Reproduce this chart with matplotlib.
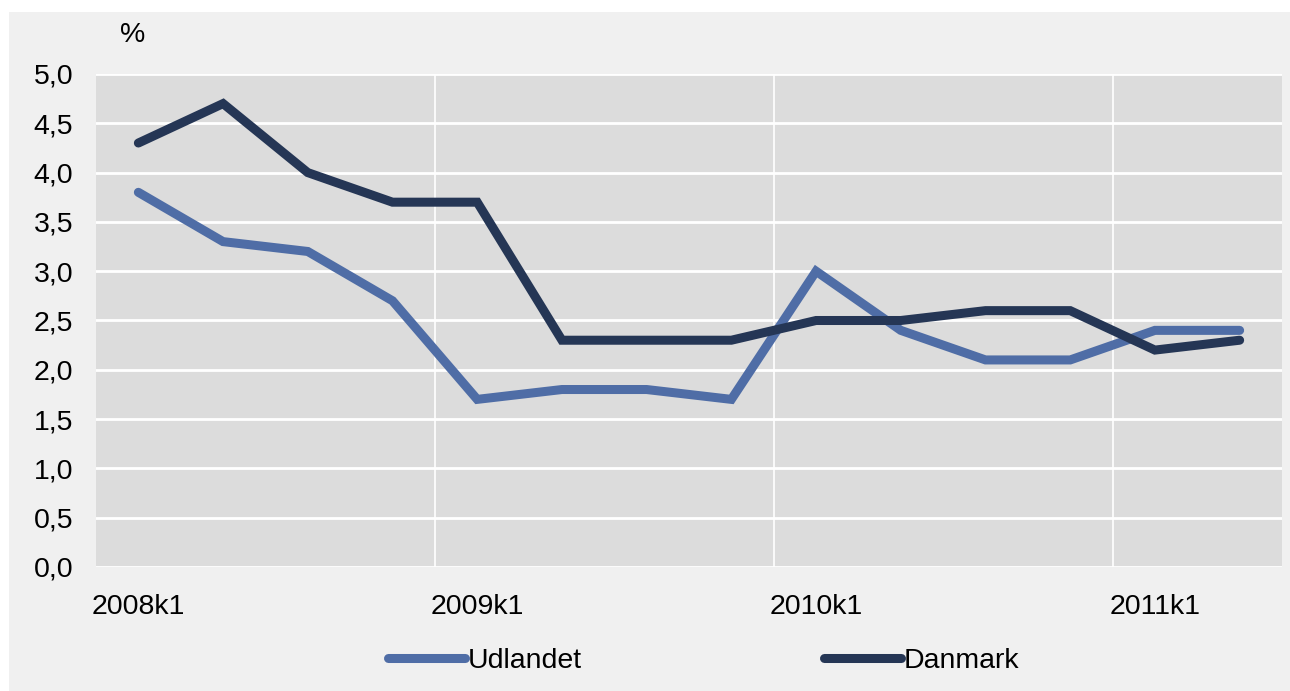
import matplotlib.pyplot as plt
from matplotlib.patches import Rectangle

plt.rcParams['font.family'] = ['Liberation Sans', 'DejaVu Sans']

quarters = ['2008k1', '2008k2', '2008k3', '2008k4',
            '2009k1', '2009k2', '2009k3', '2009k4',
            '2010k1', '2010k2', '2010k3', '2010k4',
            '2011k1', '2011k2']
udlandet = [3.8, 3.3, 3.2, 2.7, 1.7, 1.8, 1.8, 1.7, 3.0, 2.4, 2.1, 2.1, 2.4, 2.4]
danmark = [4.3, 4.7, 4.0, 3.7, 3.7, 2.3, 2.3, 2.3, 2.5, 2.5, 2.6, 2.6, 2.2, 2.3]
yticks = [0, 0.5, 1, 1.5, 2, 2.5, 3, 3.5, 4, 4.5, 5]

fig = plt.figure(figsize=(12.9, 6.91), dpi=100)
fig.patch.set_facecolor('white')
fig.patches.append(Rectangle((9 / 1290, 0), 1, 1 - 12 / 691, transform=fig.transFigure,
                             facecolor='#f0f0f0', edgecolor='none', zorder=-10))

ax = fig.add_axes([96 / 1290, 1 - 567 / 691, 1186 / 1290, 493 / 691])
ax.set_facecolor('#dcdcdc')

x = list(range(len(quarters)))
ax.plot(x, udlandet, color='#4f6da6', lw=6.5, solid_joinstyle='miter',
        solid_capstyle='round', label='Udlandet', zorder=3)
ax.plot(x, danmark, color='#253655', lw=6.5, solid_joinstyle='miter',
        solid_capstyle='round', label='Danmark', zorder=4)

ax.set_xlim(-0.5, len(quarters) - 0.5)
ax.set_ylim(0, 5)

ax.set_yticks(yticks)
ax.set_yticklabels([f'{v:.1f}'.replace('.', ',') for v in yticks], fontsize=20.5)
ax.set_xticks(x[::4])
ax.set_xticklabels(quarters[::4], fontsize=20.5)
ax.tick_params(axis='both', length=0)
ax.tick_params(axis='y', pad=16.5)
ax.tick_params(axis='x', pad=19.5)

for v in yticks:
    ax.axhline(v, color='white', lw=2, zorder=1)
for b in [3.5, 7.5, 11.5]:
    ax.axvline(b, color='white', lw=1.2, zorder=1)

for s in ax.spines.values():
    s.set_visible(False)

fig.text(133 / 1290, 1 - 35 / 691, '%', fontsize=20.5, ha='center', va='center')

fig.legend(loc='center', bbox_to_anchor=(704 / 1290, 1 - 661 / 691), ncol=2,
           frameon=False, fontsize=20.5, handlelength=2.7, handletextpad=0.1,
           columnspacing=8.5)

fig.savefig('out.png', dpi=100, facecolor=fig.get_facecolor())
